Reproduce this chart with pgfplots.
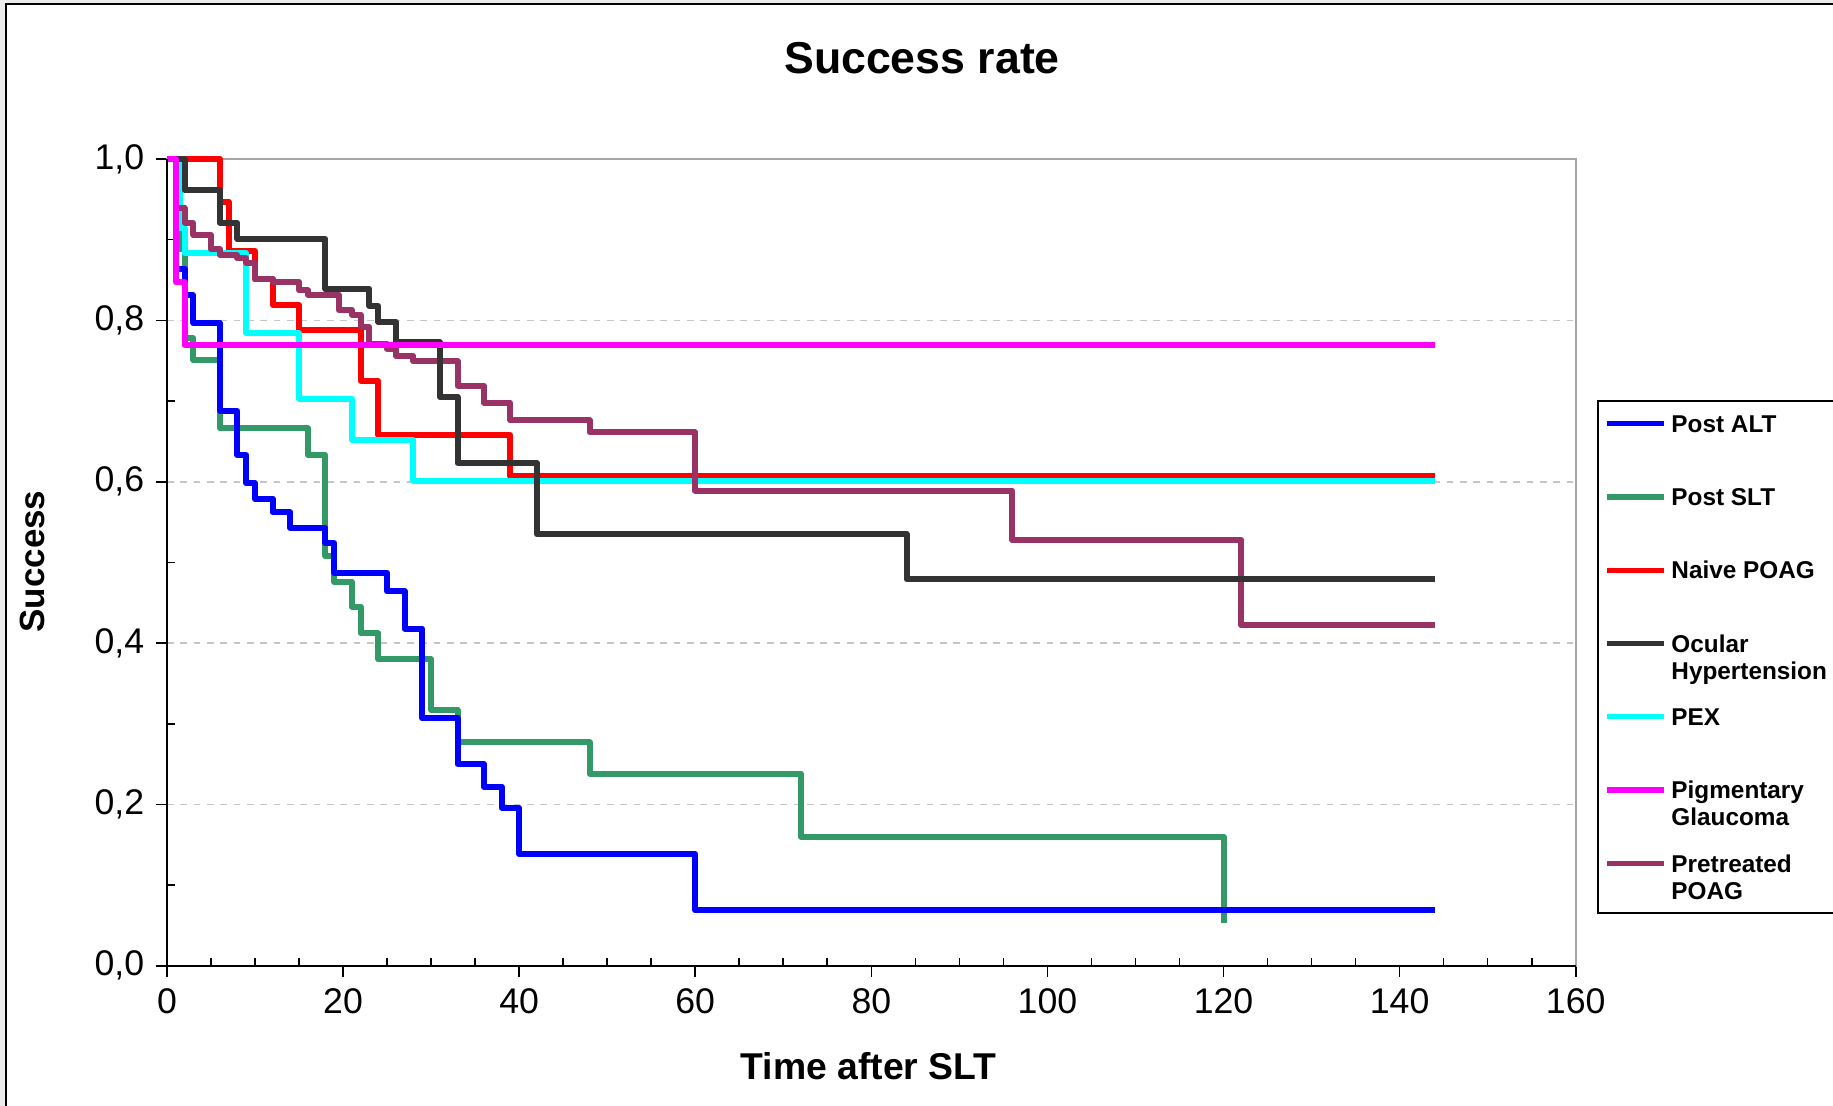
\documentclass[border=0pt]{standalone}
\usepackage{fontspec}
\setmainfont{Liberation Sans}
\usepackage{pgfplots}
\pgfplotsset{compat=1.18}
\definecolor{cBlue}{HTML}{0000FF}
\definecolor{cGreen}{HTML}{339966}
\definecolor{cRed}{HTML}{FF0000}
\definecolor{cBlack}{HTML}{333333}
\definecolor{cCyan}{HTML}{00FFFF}
\definecolor{cMagenta}{HTML}{FF00FF}
\definecolor{cPurple}{HTML}{993366}
\begin{document}
\begin{tikzpicture}
\useasboundingbox (0,0) rectangle (550pt,-331.8pt);
\fill[gray!15] (0,0) rectangle (550pt,-331.8pt);
\fill[white] (1.8pt,-1.2pt) rectangle (550pt,-331.8pt);
\draw[black, line width=0.6pt] (1.8pt,-331.8pt) -- (1.8pt,-1.2pt) -- (550pt,-1.2pt);
\begin{axis}[
  at={(50.1pt,-47.7pt)}, anchor=north west,
  scale only axis, width=422.7pt, height=242.1pt,
  xmin=0, xmax=160, ymin=0, ymax=1,
  clip=false,
  xtick={0,20,...,160}, minor x tick num=3,
  ytick={0,0.2,0.4,0.6,0.8,1}, minor y tick num=1,
  tick pos=left, tick align=outside,
  major tick length=3.3pt, minor tick length=2.3pt,
  tick style={black, line width=0.5pt},
  minor x tick style={yshift=2.3pt},
  minor y tick style={xshift=2.3pt},
  axis line style={draw=gray!70, line width=0.6pt},
  ymajorgrids,
  major grid style={gray!45, dash pattern=on 2pt off 2pt, line width=0.5pt},
  ticklabel style={font=\fontsize{10.7}{12}\selectfont},
  x tick label style={/pgf/number format/assume math mode=true},
  y tick label style={/pgf/number format/.cd, fixed, fixed zerofill, precision=1, use comma, assume math mode=true},
  title={Success rate},
  title style={font=\fontsize{13.4}{15}\selectfont\bfseries, at={(axis description cs:0.536,1.1003)}, anchor=center},
  xlabel={Time after SLT},
  xlabel style={font=\fontsize{11.2}{13}\selectfont\bfseries, at={(axis description cs:0.498,-0.1243)}, anchor=center},
  ylabel={Success},
  ylabel style={font=\fontsize{10.5}{12}\selectfont\bfseries, at={(axis description cs:-0.0953,0.501)}, anchor=center},
  legend style={at={(axis description cs:1.015,0.701)}, anchor=north west, draw=black, line width=0.6pt, fill=white,
    inner xsep=2pt, inner ysep=1.3pt, row sep=3pt, font=\fontsize{7.3}{8.1}\selectfont\bfseries,
    cells={anchor=base west},
    nodes={inner xsep=1.5pt, inner ysep=1pt, text height=7pt, text depth=10pt}},
  legend image code/.code={\draw[#1, line width=1.6pt] (0pt,2.6pt) -- (17pt,2.6pt);},
  after end axis/.code={\draw[black, line width=0.6pt] (rel axis cs:0,1) -- (rel axis cs:0,0) -- (rel axis cs:1,0);},
]
\addlegendimage{cBlue}\addlegendentry{Post ALT}
\addlegendimage{cGreen}\addlegendentry{Post SLT}
\addlegendimage{cRed}\addlegendentry{Naive POAG}
\addlegendimage{cBlack}\addlegendentry{\begin{tabular}[t]{@{}l@{}}Ocular\\Hypertension\end{tabular}}
\addlegendimage{cCyan}\addlegendentry{PEX}
\addlegendimage{cMagenta}\addlegendentry{\begin{tabular}[t]{@{}l@{}}Pigmentary\\Glaucoma\end{tabular}}
\addlegendimage{cPurple}\addlegendentry{\begin{tabular}[t]{@{}l@{}}Pretreated\\POAG\end{tabular}}

% Post SLT
\addplot[forget plot, const plot, cGreen, line width=1.8pt, line join=round] coordinates {
(0,1) (1.5,0.889) (2,0.778) (3,0.751) (6,0.666) (16,0.633) (18,0.508) (19,0.476) (21,0.445) (22,0.412) (24,0.380) (30,0.317) (33,0.277) (48,0.238) (72,0.160) (120,0.053)};
% Post ALT
\addplot[forget plot, const plot, cBlue, line width=1.8pt, line join=round] coordinates {
(0,1) (1,0.864) (2,0.831) (3,0.797) (6,0.688) (8,0.633) (9,0.598) (10,0.579) (12,0.562) (14,0.543) (18,0.524) (19,0.487) (25,0.464) (27,0.418) (29,0.307) (33,0.250) (36,0.222) (38,0.196) (40,0.139) (60,0.069) (144,0.069)};
% Naive POAG
\addplot[forget plot, const plot, cRed, line width=1.8pt, line join=round] coordinates {
(0,1) (6,0.947) (7,0.886) (10,0.851) (12,0.819) (15,0.788) (22,0.725) (24,0.658) (39,0.607) (144,0.607)};
% PEX
\addplot[forget plot, const plot, cCyan, line width=1.8pt, line join=round] coordinates {
(0,1) (1.5,0.914) (2,0.883) (9,0.784) (15,0.703) (21,0.652) (28,0.601) (144,0.601)};
% Pretreated POAG
\addplot[forget plot, const plot, cPurple, line width=1.8pt, line join=round] coordinates {
(0,1) (1,0.939) (2,0.921) (3,0.906) (5,0.888) (6,0.881) (8,0.877) (9,0.871) (10,0.851) (12,0.848) (15,0.837) (16,0.832) (19.5,0.813) (21,0.807) (22,0.792) (23,0.771) (25,0.765) (26,0.756) (28,0.749) (33,0.719) (36,0.698) (39,0.676) (48,0.661) (60,0.589) (96,0.528) (122,0.422) (144,0.422)};
% Ocular Hypertension
\addplot[forget plot, const plot, cBlack, line width=1.8pt, line join=round] coordinates {
(0,1) (2,0.961) (6,0.921) (8,0.901) (18,0.839) (23,0.818) (24,0.798) (26,0.773) (31,0.705) (33,0.623) (42,0.535) (84,0.479) (144,0.479)};
% Pigmentary Glaucoma
\addplot[forget plot, const plot, cMagenta, line width=1.8pt, line join=round] coordinates {
(0,1) (1,0.847) (2,0.769) (144,0.769)};
\end{axis}
\end{tikzpicture}
\end{document}
